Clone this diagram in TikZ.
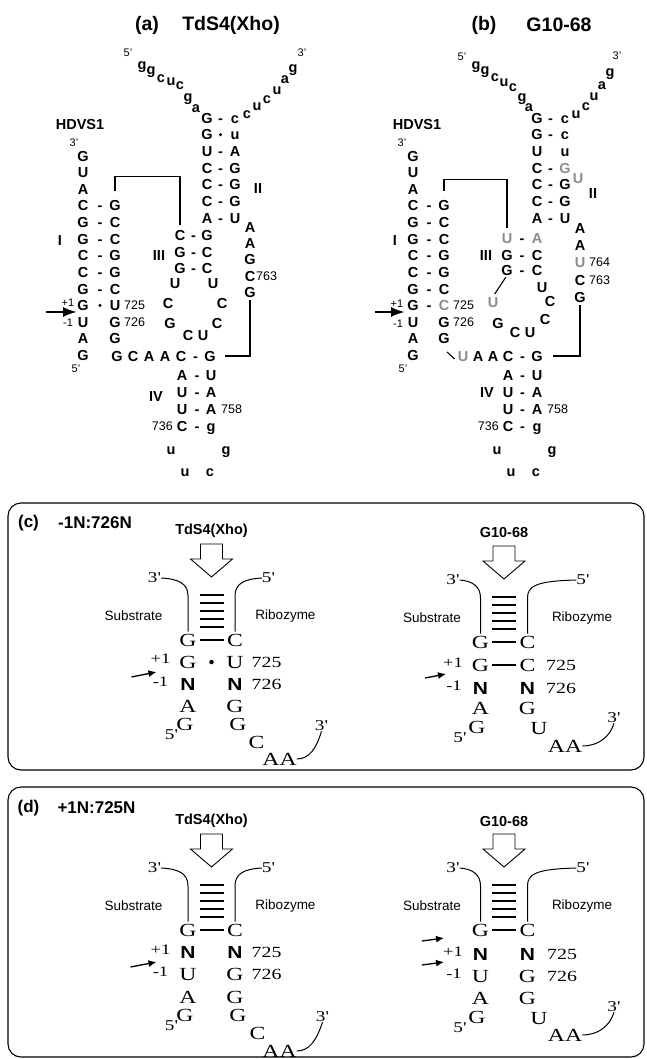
\documentclass[tikz,border=0pt]{standalone}
\usepackage{fontspec}
\setmainfont{Liberation Serif}
\setsansfont{Liberation Sans}
\newfontfamily\wideserif[FakeStretch=1.28]{Liberation Serif}
\newfontfamily\widesans[FakeStretch=1.2]{Liberation Sans}
\usetikzlibrary{arrows.meta}
\tikzset{
  nt/.style={font=\sffamily\bfseries\fontsize{14.5}{16}\selectfont, inner sep=0pt, text height=10.4pt, text depth=0pt},
  ntg/.style={nt, text=black!45},
  dsh/.style={nt},
  wob/.style={circle, fill=black, inner sep=0pt, minimum size=3.4pt},
  numr/.style={font=\sffamily\fontsize{12.5}{14}\selectfont, inner sep=0pt, text height=9pt, text depth=0pt},
  pmr/.style={font=\sffamily\fontsize{11}{12}\selectfont, inner sep=0pt, text height=8pt, text depth=0pt},
  endl/.style={font=\sffamily\fontsize{11}{12}\selectfont, inner sep=0pt, text height=8pt, text depth=0pt},
  ttl/.style={font=\sffamily\bfseries\fontsize{19.5}{22}\selectfont, inner sep=0pt},
  link/.style={line width=1.1pt},
  bigarr/.style={line width=2.2pt, -{Latex[length=14pt,width=10pt]}},
  panelbox/.style={draw, line width=1.1pt, rounded corners=13pt},
  blab/.style={font=\sffamily\bfseries\fontsize{17}{20}\selectfont, inner sep=0pt},
  sttl/.style={font=\sffamily\bfseries\fontsize{14.5}{16}\selectfont, inner sep=0pt},
  sl/.style={font=\wideserif\fontsize{18.5}{19}\selectfont, inner sep=0pt, text height=12.2pt, text depth=0pt},
  nb/.style={font=\widesans\bfseries\fontsize{17.5}{19}\selectfont, inner sep=0pt, text height=12.5pt, text depth=0pt},
  sn/.style={font=\wideserif\fontsize{15.5}{17}\selectfont, inner sep=0pt, text height=10.5pt, text depth=0pt},
  spm/.style={font=\wideserif\fontsize{14.5}{16}\selectfont, inner sep=0pt},
  spr/.style={font=\wideserif\fontsize{15}{16}\selectfont, inner sep=0pt},
  side/.style={font=\sffamily\fontsize{13.5}{15}\selectfont, inner sep=0pt},
  rung/.style={line width=2.6pt},
  strand/.style={line width=1pt},
  smallarr/.style={line width=1.3pt, -{Latex[length=8pt,width=7pt]}},
  wob2/.style={circle, fill=black, inner sep=0pt, minimum size=4.5pt},
}
% #1 prefix, #2 title, #3 3' x, #4 5' x, #5 Substrate x, #6 Ribozyme x
\newcommand\lowtop[6]{%
  \node[sttl] (#1t) at (0,-109) {#2};
  \draw[line width=0.9pt, fill=white] (-11,-96) -- (11,-96) -- (11,-81) -- (21,-81) -- (0,-63) -- (-21,-81) -- (-11,-81) -- cycle;
  \node[spr] (#1s3) at (#3,-62) {3'};
  \node[spr] (#1s5) at (#4,-62) {5'};
  \node[sl] (#1G) at (-23.5,0) {G};
  \node[sl] (#1C) at (23.5,0) {C};
  \draw[strand, shorten >=2pt] (#1s3.east) .. controls (-32,-61) and (-23.5,-56) .. (-23.5,-44) -- (#1G.north);
  \draw[strand, shorten >=2pt] (#1s5.west) .. controls (32,-61) and (23.5,-56) .. (23.5,-44) -- (#1C.north);
  \foreach \yy in {-45,-37,-29,-21,-13} \draw[rung] (-12,\yy) -- (12,\yy);
  \draw[rung, shorten <=3pt, shorten >=3pt] (#1G.east) -- (#1C.west);
  \node[side] (#1sub) at (#5,-24) {Substrate};
  \node[side] (#1rib) at (#6,-24) {Ribozyme};
}
\begin{document}
\begin{tikzpicture}[x=1pt,y=-1pt]
\useasboundingbox (0,0) rectangle (646,1059);
% ================= titles
\node[ttl] (ta1) at (147,25) {(a)};
\node[ttl] (ta2) at (231,25) {TdS4(Xho)};
\node[ttl] (tb1) at (484,25) {(b)};
\node[ttl] (tb2) at (559,25) {G10-68};
% ================= panel (a)
\node[endl] (a5p) at (128,53) {5'};
\foreach \x/\y/\l [count=\i] in {142/64/g,151/69/g,161/77/c,171/80/u,180/84/c,188/96/g,196/107/a}
  \node[nt] (a5s\i) at (\x,\y) {\l};
\foreach \x/\y/\l [count=\i] in {247/113/c,257/105/u,267/98/c,277/89/u,285/78/a,293/67/g}
  \node[nt] (a3s\i) at (\x,\y) {\l};
\node[endl] (a3p) at (302,53) {3'};
\foreach \l/\r [count=\i] in {G/c,G/u,U/A,C/G,C/G,C/G,A/U} {
  \node[nt] (aIIl\i) at (207,{118+(\i-1)*16.67}) {\l};
  \node[nt] (aIIr\i) at (235,{118+(\i-1)*16.67}) {\r};
}
\foreach \i in {1,3,4,5,6,7} \node[dsh] (aIId\i) at (220.5,{118+(\i-1)*16.67}) {-};
\node[wob] (aIIw2) at (220.5,134.7) {};
\node[nt] (aII) at (258,188) {II};
\foreach \l/\y [count=\i] in {A/227,A/243,G/259,C/276,G/292} \node[nt] (aRs\i) at (250,\y) {\l};
\node[numr, anchor=west] (a763) at (256,276) {763};
\foreach \x/\l [count=\i] in {117/G,133/C,149/A,165/A,181/C,210/G} \node[nt] (aJ\i) at (\x,356) {\l};
\node[dsh] (aJd) at (195.5,356) {-};
\draw[link, shorten <=3pt, shorten >=9pt] (aRs5.south) |- (aJ6.east);
\foreach \l/\r/\y [count=\i] in {C/G/235,G/C/252,G/C/268} {
  \node[nt] (aIIIl\i) at (180,\y) {\l};
  \node[nt] (aIIIr\i) at (207,\y) {\r};
  \node[dsh] (aIIId\i) at (193.5,\y) {-};
}
\node[nt] (aIII) at (159,255) {III};
\foreach \x/\y/\l [count=\i] in {175/283/U,168/303/C,170/323/G,188/335/C,203/335/U,217/323/C,222/303/C,213/283/U}
  \node[nt] (aL\i) at (\x,\y) {\l};
\node[sttl] (aHD) at (80,125) {HDVS1};
\node[endl] (aH3) at (74,143) {3'};
\foreach \l [count=\i] in {G,U,A,C,G,G,C,C,G,G,U,A,G} \node[nt] (aIl\i) at (83,{156+(\i-1)*16.6}) {\l};
\foreach \l [count=\i] in {G,C,C,G,G,C,U,G,G} \node[nt] (aIr\i) at (115,{205.8+(\i-1)*16.6}) {\l};
\foreach \i in {1,...,6} \node[dsh] (aId\i) at (100,{205.8+(\i-1)*16.6}) {-};
\node[wob] (aIw7) at (100,305.4) {};
\node[nt] (aI) at (60,240) {I};
\node[numr, anchor=west] (a725) at (124,305.4) {725};
\node[numr, anchor=west] (a726) at (124,322) {726};
\node[pmr] (apl) at (68,302) {+1};
\node[pmr] (amn) at (68,322) {-1};
\coordinate (aar0) at (46,312); \coordinate (aar1) at (77,312);
\draw[bigarr] (aar0) -- (aar1);
\node[endl] (aH5) at (76,368) {5'};
\draw[link, shorten <=9pt, shorten >=5pt] (aIr1.north) -- ++(0,-24) -| (aIIIl1.north);
\foreach \l/\r/\y [count=\i] in {A/U/375,U/A/392,U/A/409,C/g/426} {
  \node[nt] (aIVl\i) at (182,\y) {\l};
  \node[nt] (aIVr\i) at (211,\y) {\r};
  \node[dsh] (aIVd\i) at (197,\y) {-};
}
\node[nt] (aIV) at (156,396) {IV};
\node[numr, anchor=west] (a758) at (221,409) {758};
\node[numr, anchor=east] (a736) at (173,426) {736};
\foreach \x/\y/\l [count=\i] in {171/449/u,185/471/u,210/471/c,226/449/g} \node[nt] (aT\i) at (\x,\y) {\l};
% ================= panel (b)
\begin{scope}[xshift=330pt]
\node[endl] (b5p) at (132,57) {5'};
\foreach \x/\y/\l [count=\i] in {146/64/g,155/69/g,165/76/c,174/81/u,183/86/c,192/96/g,199/106/a}
  \node[nt] (b5s\i) at (\x,\y) {\l};
\foreach \x/\y/\l [count=\i] in {246/113/u,256/105/c,264/95/u,272/84/a,280/71/g}
  \node[nt] (b3s\i) at (\x,\y) {\l};
\node[endl] (b3p) at (287,56) {3'};
\foreach \l [count=\i] in {G,G,U,C,C,C,A} \node[nt] (bIIl\i) at (207,{118+(\i-1)*16.67}) {\l};
\foreach \r/\i in {c/1,c/2,u/3,G/5,G/6,U/7} \node[nt] (bIIr\i) at (235,{118+(\i-1)*16.67}) {\r};
\node[ntg] (bIIr4) at (235,168) {G};
\foreach \i in {1,2,4,5,6,7} \node[dsh] (bIId\i) at (220.5,{118+(\i-1)*16.67}) {-};
\node[ntg] (bIIb) at (248,178) {U};
\node[nt] (bII) at (263,193) {II};
\node[nt] (bRs1) at (250,228) {A};
\node[nt] (bRs2) at (250,245) {A};
\node[ntg] (bRs3) at (250,262) {U};
\node[nt] (bRs4) at (250,280) {C};
\node[nt] (bRs5) at (250,297) {G};
\node[numr, anchor=west] (b764) at (259,262) {764};
\node[numr, anchor=west] (b763) at (259,280) {763};
\node[ntg] (bJ1) at (133,356) {U};
\foreach \x/\l [count=\i from 2] in {148/A,163/A,178/C,207/G} \node[nt] (bJ\i) at (\x,356) {\l};
\node[dsh] (bJd) at (192.5,356) {-};
\draw[link, shorten <=3pt, shorten >=10pt] (bRs5.south) |- (bJ5.east);
\node[ntg] (bIIIl1) at (177,238) {U};
\node[ntg] (bIIIr1) at (207,238) {A};
\foreach \l/\r/\y [count=\i from 2] in {G/C/255,G/C/270} {
  \node[nt] (bIIIl\i) at (177,\y) {\l};
  \node[nt] (bIIIr\i) at (207,\y) {\r};
}
\foreach \y [count=\i] in {238,255,270} \node[dsh] (bIIId\i) at (192,\y) {-};
\node[nt] (bIII) at (156,255) {III};
\node[ntg] (bL1) at (163,302) {U};
\foreach \x/\y/\l [count=\i from 2] in {168/323/G,185/332/C,200/332/U,215/319/C,220/301/C,212/287/U}
  \node[nt] (bL\i) at (\x,\y) {\l};
\draw[link, shorten <=2pt, shorten >=3pt] (bIIIl3.south) -- (bL1.north);
\node[sttl] (bHD) at (87,125) {HDVS1};
\node[endl] (bH3) at (72,143) {3'};
\foreach \l [count=\i] in {G,U,A,C,G,G,C,C,G,G,U,A,G} \node[nt] (bIl\i) at (83,{156+(\i-1)*16.6}) {\l};
\foreach \l/\i in {G/1,C/2,C/3,G/4,G/5,C/6,G/8,G/9} \node[nt] (bIr\i) at (114,{205.8+(\i-1)*16.6}) {\l};
\node[ntg] (bIr7) at (114,305.4) {C};
\foreach \i in {1,...,7} \node[dsh] (bId\i) at (99,{205.8+(\i-1)*16.6}) {-};
\node[nt] (bI) at (65,240) {I};
\node[numr, anchor=west] (b725) at (123,305.4) {725};
\node[numr, anchor=west] (b726) at (123,322) {726};
\node[pmr] (bpl) at (67,303) {+1};
\node[pmr] (bmn) at (68,323) {-1};
\coordinate (bar0) at (45,312); \coordinate (bar1) at (75,312);
\draw[bigarr] (bar0) -- (bar1);
\node[endl] (bH5) at (73,368) {5'};
\draw[link] ([shift={(3,8)}]bIr9.south) -- ([shift={(-3,3)}]bJ1.west);
\draw[link, shorten <=9pt, shorten >=5pt] (bIr1.north) -- ++(0,-21) -| (bIIIl1.north);
\foreach \l/\r/\y [count=\i] in {A/U/375,U/A/392,U/A/409,C/g/426} {
  \node[nt] (bIVl\i) at (178,\y) {\l};
  \node[nt] (bIVr\i) at (207,\y) {\r};
  \node[dsh] (bIVd\i) at (192.5,\y) {-};
}
\node[nt] (bIV) at (157,392) {IV};
\node[numr, anchor=west] (b758) at (217,409) {758};
\node[numr, anchor=east] (b736) at (169,426) {736};
\foreach \x/\y/\l [count=\i] in {167/449/u,181/471/u,206/471/c,222/449/g} \node[nt] (bT\i) at (\x,\y) {\l};
\end{scope}
% ================= boxes
\draw[panelbox] (8,503) rectangle (644,770);
\draw[panelbox] (8,787) rectangle (644,1057);
\node[blab] (cl1) at (28.5,523) {(c)};
\node[blab] (cl2) at (95,523) {-1N:726N};
\node[blab] (dl1) at (28.5,808) {(d)};
\node[blab] (dl2) at (96.5,808) {+1N:725N};
% ---- (c) TdS4
\begin{scope}[shift={(211.5,640)}]
\lowtop{ct}{TdS4(Xho)}{-57}{57}{-78}{74}
\node[spm] (ctp) at (-51,19) {+1};
\node[sl] (ct1l) at (-23.5,22) {G};
\node[wob2] (ct1m) at (0,22) {};
\node[sl] (ct1r) at (23.5,22) {U};
\node[sn, anchor=west] (ct1n) at (40,22) {725};
\coordinate (cta0) at (-80,37); \coordinate (cta1) at (-55,32);
\draw[smallarr] (cta0) -- (cta1);
\node[spm] (ctm) at (-51,42) {-1};
\node[nb] (ct2l) at (-23.5,44) {N};
\node[nb] (ct2r) at (23.5,44) {N};
\node[sn, anchor=west] (ct2n) at (40,44) {726};
\node[sl] (ct3l) at (-23.5,66) {A};
\node[sl] (ct3r) at (23.5,66) {G};
\node[sl] (ct4l) at (-26.5,84) {G};
\node[sl] (ct4r) at (26.5,84) {G};
\node[spr] (ct5p) at (-40,95) {5'};
\node[sl] (ct5r) at (45,102) {C};
\node[sl] (ctaa) at (68,119) {AA};
\node[spr] (ct3p) at (110,86) {3'};
\draw[strand] (ctaa.east) .. controls (98,119) and (105,108) .. (ct3p.south);
\end{scope}
% ---- (c) G10-68
\begin{scope}[shift={(504,642)}]
\lowtop{cg}{G10-68}{-51}{79}{-72}{78}
\node[spm] (cgp) at (-51,21) {+1};
\node[sl] (cg1l) at (-23.5,23) {G};
\node[sl] (cg1r) at (23.5,23) {C};
\draw[rung, shorten <=3pt, shorten >=3pt] (cg1l.east) -- (cg1r.west);
\node[sn, anchor=west] (cg1n) at (42,23) {725};
\coordinate (cga0) at (-79,36); \coordinate (cga1) at (-58,32);
\draw[smallarr] (cga0) -- (cga1);
\node[spm] (cgm) at (-50,44) {-1};
\node[nb] (cg2l) at (-23.5,46) {N};
\node[nb] (cg2r) at (23.5,46) {N};
\node[sn, anchor=west] (cg2n) at (42,46) {726};
\node[sl] (cg3l) at (-23.5,66) {A};
\node[sl] (cg3r) at (23.5,66) {G};
\node[sl] (cg4l) at (-27,85) {G};
\node[sl] (cg4r) at (35,86) {U};
\node[spr] (cg5p) at (-44,96) {5'};
\node[sl] (cgaa) at (61,104) {AA};
\node[spr] (cg3p) at (110,76) {3'};
\draw[strand] (cgaa.east) .. controls (94,104) and (106,95) .. (cg3p.south);
\end{scope}
% ---- (d) TdS4
\begin{scope}[shift={(211.5,930)}]
\lowtop{dt}{TdS4(Xho)}{-57}{57}{-78}{74}
\node[spm] (dtp) at (-51,20) {+1};
\node[nb] (dt1l) at (-23.5,22) {N};
\node[nb] (dt1r) at (23.5,22) {N};
\node[sn, anchor=west] (dt1n) at (40,22) {725};
\coordinate (dta0) at (-81,37); \coordinate (dta1) at (-55,32);
\draw[smallarr] (dta0) -- (dta1);
\node[spm] (dtm) at (-51,42) {-1};
\node[sl] (dt2l) at (-23.5,44) {U};
\node[sl] (dt2r) at (23.5,44) {G};
\node[sn, anchor=west] (dt2n) at (40,44) {726};
\node[sl] (dt3l) at (-23.5,67) {A};
\node[sl] (dt3r) at (23.5,67) {G};
\node[sl] (dt4l) at (-26.5,85) {G};
\node[sl] (dt4r) at (26.5,85) {G};
\node[spr] (dt5p) at (-40,96) {5'};
\node[sl] (dt5r) at (46,103) {C};
\node[sl] (dtaa) at (68,121) {AA};
\node[spr] (dt3p) at (111,87) {3'};
\draw[strand] (dtaa.east) .. controls (98,121) and (105,110) .. (dt3p.south);
\end{scope}
% ---- (d) G10-68
\begin{scope}[shift={(504,930)}]
\lowtop{dg}{G10-68}{-51}{79}{-72}{78}
\coordinate (dga0) at (-82,11); \coordinate (dga1) at (-60,8);
\draw[smallarr] (dga0) -- (dga1);
\coordinate (dgb0) at (-82,35); \coordinate (dgb1) at (-60,32);
\draw[smallarr] (dgb0) -- (dgb1);
\node[spm] (dgp) at (-51,22) {+1};
\node[nb] (dg1l) at (-23.5,24) {N};
\node[nb] (dg1r) at (23.5,24) {N};
\node[sn, anchor=west] (dg1n) at (43,24) {725};
\node[spm] (dgm) at (-50,44) {-1};
\node[sl] (dg2l) at (-23.5,46) {U};
\node[sl] (dg2r) at (23.5,46) {G};
\node[sn, anchor=west] (dg2n) at (43,46) {726};
\node[sl] (dg3l) at (-23.5,68) {A};
\node[sl] (dg3r) at (23.5,68) {G};
\node[sl] (dg4l) at (-27,87) {G};
\node[sl] (dg4r) at (35,88) {U};
\node[spr] (dg5p) at (-44,98) {5'};
\node[sl] (dgaa) at (61,105) {AA};
\node[spr] (dg3p) at (110,77) {3'};
\draw[strand] (dgaa.east) .. controls (94,105) and (106,96) .. (dg3p.south);
\end{scope}
\end{tikzpicture}
\end{document}
